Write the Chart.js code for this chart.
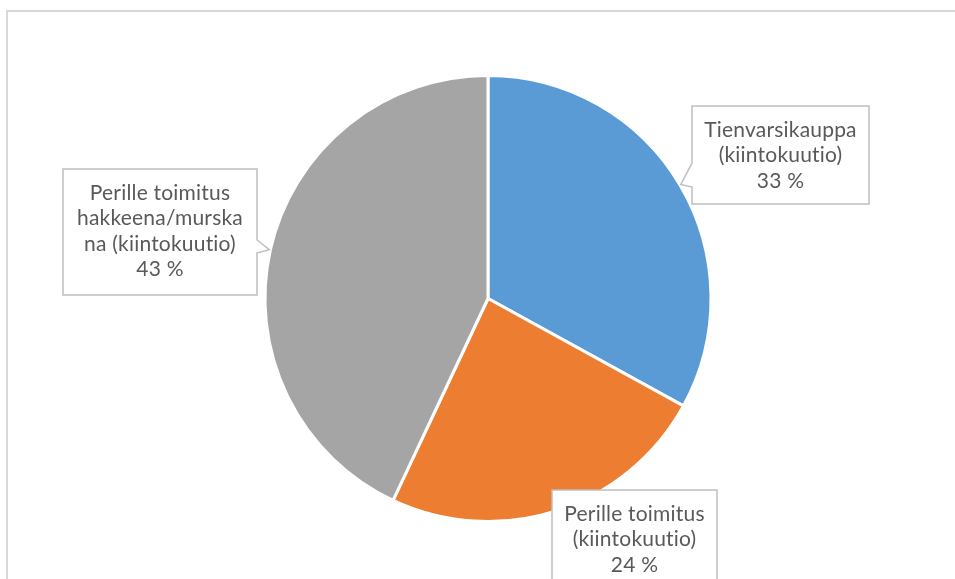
<!DOCTYPE html>
<html>
<head>
<meta charset="utf-8">
<script src="https://cdn.jsdelivr.net/npm/chart.js@4/dist/chart.umd.min.js"></script>
<style>
  html, body { margin: 0; padding: 0; background: #fff; }
  #wrap { position: relative; width: 955px; height: 579px; }
</style>
</head>
<body>
<div id="wrap"><canvas id="pie"></canvas></div>
<script>
const categories = [
  'Tienvarsikauppa (kiintokuutio)',
  'Perille toimitus (kiintokuutio)',
  'Perille toimitus hakkeena/murskana (kiintokuutio)'
];
const shares = [33, 24, 43];
// wrapped category text as shown in the callouts
const labelLines = [
  ['Tienvarsikauppa', '(kiintokuutio)'],
  ['Perille toimitus', '(kiintokuutio)'],
  ['Perille toimitus', 'hakkeena/murska', 'na (kiintokuutio)']
];
const sliceColors = ['#5B9BD5', '#ED7D31', '#A5A5A5'];

// callout boxes: [x, y, w, h], which edge the pointer leaves from and where
const callouts = [
  { box: [692, 106, 177, 98], side: 'left', notch: [163, 187] },
  { box: [552, 490, 165, 100], side: null },
  { box: [63, 169, 194, 126], side: 'right', notch: [240, 253] }
];

const FONT = '21px Lato, "Open Sans", sans-serif';

const calloutPlugin = {
  id: 'callouts',
  beforeDraw(chart) {
    // light frame round the plot
    const ctx = chart.ctx;
    ctx.save();
    ctx.strokeStyle = '#d9d9d9';
    ctx.lineWidth = 2;
    ctx.beginPath();
    ctx.moveTo(7, 600);
    ctx.lineTo(7, 11);
    ctx.lineTo(955, 11);
    ctx.stroke();
    ctx.restore();
  },
  afterDatasetsDraw(chart) {
    const ctx = chart.ctx;
    const arcs = chart.getDatasetMeta(0).data;
    ctx.save();
    arcs.forEach((arc, i) => {
      const c = callouts[i];
      const [x, y, w, h] = c.box;
      const mid = (arc.startAngle + arc.endAngle) / 2;
      const tx = arc.x + Math.cos(mid) * (arc.outerRadius + 1);
      const ty = arc.y + Math.sin(mid) * (arc.outerRadius + 1);

      ctx.beginPath();
      ctx.moveTo(x, y);
      ctx.lineTo(x + w, y);
      if (c.side === 'right') {
        ctx.lineTo(x + w, c.notch[0]);
        ctx.lineTo(tx, ty);
        ctx.lineTo(x + w, c.notch[1]);
      }
      ctx.lineTo(x + w, y + h);
      ctx.lineTo(x, y + h);
      if (c.side === 'left') {
        ctx.lineTo(x, c.notch[1]);
        ctx.lineTo(tx, ty);
        ctx.lineTo(x, c.notch[0]);
      }
      ctx.closePath();
      ctx.fillStyle = '#fff';
      ctx.fill();
      ctx.strokeStyle = '#bfbfbf';
      ctx.lineWidth = 1.5;
      ctx.stroke();

      const lines = labelLines[i].concat([shares[i] + ' %']);
      ctx.fillStyle = '#595959';
      ctx.font = FONT;
      ctx.letterSpacing = '0.2px'; // also keeps Lato from joining "ti"
      ctx.textAlign = 'center';
      ctx.textBaseline = 'middle';
      lines.forEach((t, k) => {
        ctx.fillText(t, x + w / 2, y + 24 + k * 25.5);
      });
    });
    ctx.restore();
  }
};

new Chart(document.getElementById('pie'), {
  type: 'pie',
  data: {
    labels: categories,
    datasets: [{
      data: shares,
      backgroundColor: sliceColors,
      borderColor: '#fff',
      borderWidth: 3
    }]
  },
  options: {
    responsive: true,
    maintainAspectRatio: false,
    animation: false,
    layout: { padding: { top: 74, bottom: 56, left: 21, right: 0 } },
    plugins: {
      legend: { display: false },
      tooltip: { enabled: false }
    }
  },
  plugins: [calloutPlugin]
});
</script>
</body>
</html>
